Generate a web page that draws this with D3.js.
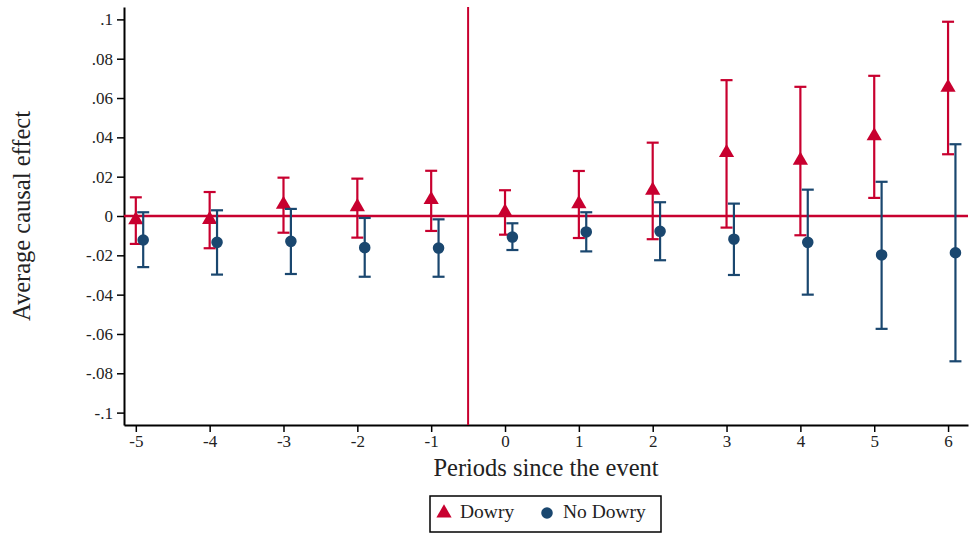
<!DOCTYPE html>
<html>
<head>
<meta charset="utf-8">
<script src="https://cdn.jsdelivr.net/npm/d3@7"></script>
<style>
  body { margin: 0; background: #fff; }
  svg { display: block; font-family: "Liberation Serif", "DejaVu Serif", serif; }
</style>
</head>
<body>
<div id="chart"></div>
<script>
// Données
const periods = [-5, -4, -3, -2, -1, 0, 1, 2, 3, 4, 5, 6];
const dowryEst = [-0.002, -0.0018, 0.0059, 0.0047, 0.0083, 0.002, 0.0062, 0.0131, 0.0322, 0.0283, 0.0407, 0.0654];
const dowryLow = [-0.0142, -0.0164, -0.0085, -0.011, -0.0076, -0.0095, -0.0112, -0.0118, -0.0059, -0.0098, 0.0092, 0.0314];
const dowryHigh = [0.0095, 0.0122, 0.0195, 0.019, 0.023, 0.0131, 0.0229, 0.0373, 0.0691, 0.0657, 0.0713, 0.0988];
const noDowryEst = [-0.0122, -0.0134, -0.0129, -0.0161, -0.0163, -0.0107, -0.0081, -0.0078, -0.0118, -0.0134, -0.0198, -0.0187];
const noDowryLow = [-0.026, -0.0298, -0.0295, -0.0309, -0.0309, -0.0173, -0.018, -0.0225, -0.03, -0.04, -0.0574, -0.0739];
const noDowryHigh = [0.0019, 0.0029, 0.0036, -0.001, -0.0017, -0.0037, 0.0019, 0.007, 0.0063, 0.0134, 0.0174, 0.0365];
const yTicks = [-0.1, -0.08, -0.06, -0.04, -0.02, 0, 0.02, 0.04, 0.06, 0.08, 0.1];
const yTickLabels = ['-.1', '-.08', '-.06', '-.04', '-.02', '0', '.02', '.04', '.06', '.08', '.1'];

const config = {
  width: 975,
  height: 535,
  margin: { top: 7, right: 7, bottom: 110, left: 124 },
  red: '#c8002f',
  blue: '#1a476f'
};
const plotW = config.width - config.margin.left - config.margin.right;
const plotH = config.height - config.margin.top - config.margin.bottom;

const svg = d3.select('#chart').append('svg')
  .attr('width', config.width)
  .attr('height', config.height);
const g = svg.append('g')
  .attr('transform', `translate(${config.margin.left}, ${config.margin.top})`);

const xScale = d3.scaleLinear().domain([-5.16, 6.27]).range([0, plotW]);
const yScale = d3.scaleLinear().domain([-0.1063, 0.1063]).range([plotH, 0]);

// Axes
const yAxis = g.append('g').attr('class', 'y axis')
  .call(d3.axisLeft(yScale).tickValues(yTicks).tickFormat((d, i) => yTickLabels[i]).tickSize(7).tickSizeOuter(0).tickPadding(4));
const xAxis = g.append('g').attr('class', 'x axis')
  .attr('transform', `translate(0, ${plotH})`)
  .call(d3.axisBottom(xScale).tickValues(periods).tickFormat(d3.format('d')).tickSize(7).tickSizeOuter(0).tickPadding(3));

g.selectAll('.axis .domain').attr('stroke', '#000').attr('stroke-width', 2);
g.selectAll('.axis .tick line').attr('stroke', '#000').attr('stroke-width', 1.5);
g.selectAll('.axis text').attr('font-size', 17).attr('fill', '#222')
  .style('font-family', '"Liberation Serif", serif');
// le "-" de d3 est un signe moins unicode, on remet le tiret simple
xAxis.selectAll('text').text(d => String(d));

// Lignes de référence
g.append('line')
  .attr('x1', 0).attr('x2', plotW)
  .attr('y1', yScale(0)).attr('y2', yScale(0))
  .attr('stroke', config.red).attr('stroke-width', 2.5);
g.append('line')
  .attr('x1', xScale(-0.5)).attr('x2', xScale(-0.5))
  .attr('y1', 0).attr('y2', plotH)
  .attr('stroke', config.red).attr('stroke-width', 2);

// Séries
const dowry = periods.map((p, i) => ({ x: p, est: dowryEst[i], lo: dowryLow[i], hi: dowryHigh[i] }));
const noDowry = periods.map((p, i) => ({ x: p + 0.1, est: noDowryEst[i], lo: noDowryLow[i], hi: noDowryHigh[i] }));

function drawErrorBars(data, color, cls) {
  const grp = g.append('g').attr('class', cls);
  const cap = 6;
  grp.selectAll('.bar').data(data).enter().append('line')
    .attr('x1', d => xScale(d.x)).attr('x2', d => xScale(d.x))
    .attr('y1', d => yScale(d.lo)).attr('y2', d => yScale(d.hi))
    .attr('stroke', color).attr('stroke-width', 2.2);
  grp.selectAll('.capHi').data(data).enter().append('line')
    .attr('x1', d => xScale(d.x) - cap).attr('x2', d => xScale(d.x) + cap)
    .attr('y1', d => yScale(d.hi)).attr('y2', d => yScale(d.hi))
    .attr('stroke', color).attr('stroke-width', 2.2);
  grp.selectAll('.capLo').data(data).enter().append('line')
    .attr('x1', d => xScale(d.x) - cap).attr('x2', d => xScale(d.x) + cap)
    .attr('y1', d => yScale(d.lo)).attr('y2', d => yScale(d.lo))
    .attr('stroke', color).attr('stroke-width', 2.2);
  return grp;
}

const triangle = d3.symbol().type(d3.symbolTriangle).size(100);
const circle = d3.symbol().type(d3.symbolCircle).size(105);

drawErrorBars(dowry, config.red, 'dowry')
  .selectAll('path').data(dowry).enter().append('path')
  .attr('d', triangle)
  .attr('transform', d => `translate(${xScale(d.x)}, ${yScale(d.est)})`)
  .attr('fill', config.red);

drawErrorBars(noDowry, config.blue, 'nodowry')
  .selectAll('path').data(noDowry).enter().append('path')
  .attr('d', circle)
  .attr('transform', d => `translate(${xScale(d.x)}, ${yScale(d.est)})`)
  .attr('fill', config.blue);

// Titres des axes
svg.append('text')
  .text('Average causal effect')
  .attr('transform', `translate(30, ${config.margin.top + yScale(0)}) rotate(-90)`)
  .attr('text-anchor', 'middle')
  .attr('font-size', 24.5)
  .attr('fill', '#222');
svg.append('text')
  .text('Periods since the event')
  .attr('x', 546)
  .attr('y', 476)
  .attr('text-anchor', 'middle')
  .attr('font-size', 24.5)
  .attr('fill', '#222');

// Légende
const legend = svg.append('g').attr('class', 'legend').attr('transform', 'translate(430, 496)');
legend.append('rect')
  .attr('width', 231).attr('height', 36)
  .attr('fill', '#fff').attr('stroke', '#000').attr('stroke-width', 1.5);
legend.append('path').attr('d', triangle).attr('transform', 'translate(14, 17)').attr('fill', config.red);
legend.append('text').text('Dowry').attr('x', 30).attr('y', 18)
  .attr('dominant-baseline', 'middle').attr('font-size', 19.5).attr('fill', '#222');
legend.append('path').attr('d', circle).attr('transform', 'translate(117, 17)').attr('fill', config.blue);
legend.append('text').text('No Dowry').attr('x', 133).attr('y', 18)
  .attr('dominant-baseline', 'middle').attr('font-size', 19.5).attr('fill', '#222');
</script>
</body>
</html>
